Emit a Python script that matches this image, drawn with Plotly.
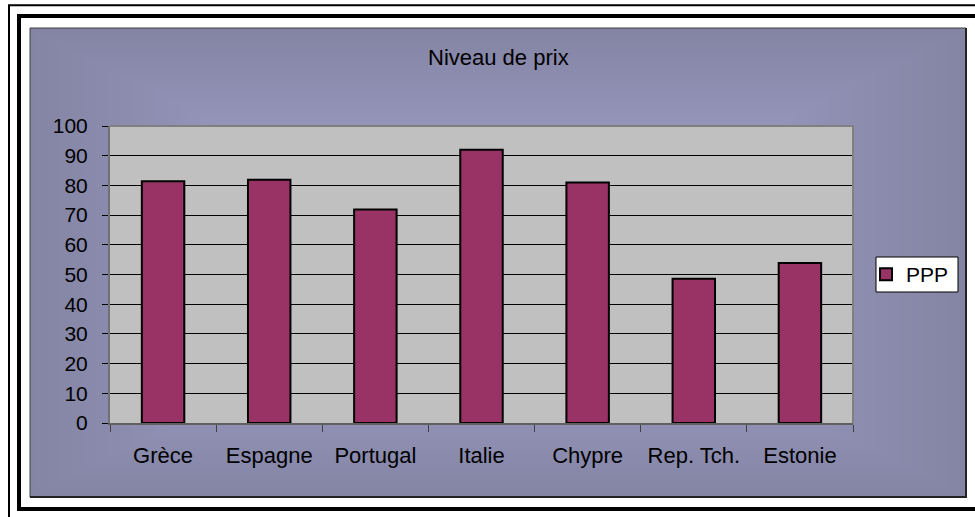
import base64
import struct
import zlib

import numpy as np
import plotly.graph_objects as go

categories = ["Grèce", "Espagne", "Portugal", "Italie", "Chypre", "Rep. Tch.", "Estonie"]
ppp_values = [81.4, 81.9, 71.9, 92.0, 81.0, 48.6, 53.9]
series_name = "PPP"
title_text = "Niveau de prix"

W, H = 975, 517
L, R, T, B = 110, 853, 126, 423  # plot area in pixels
PW, PH = R - L, B - T


def X(px):
    return (px - L) / PW


def Y(py):
    return (B - py) / PH


def make_png(arr):
    h, w, _ = arr.shape
    raw = b"".join(b"\x00" + arr[i].tobytes() for i in range(h))

    def chunk(tag, data):
        c = struct.pack(">I", len(data)) + tag + data
        return c + struct.pack(">I", zlib.crc32(tag + data) & 0xFFFFFFFF)

    png = b"\x89PNG\r\n\x1a\n"
    png += chunk(b"IHDR", struct.pack(">IIBBBBB", w, h, 8, 2, 0, 0, 0))
    png += chunk(b"IDAT", zlib.compress(raw, 9))
    png += chunk(b"IEND", b"")
    return "data:image/png;base64," + base64.b64encode(png).decode()


# background gradient of chart area ("from center" style)
gw, gh = 234, 117
yy, xx = np.mgrid[0:gh, 0:gw]
tx = np.abs((xx + 0.5) / gw - 0.5) * 2
ty = np.abs((yy + 0.5) / gh - 0.5) * 2
t = np.clip(np.maximum(tx, ty), 0, 1)
center = np.array([172, 172, 216], dtype=float)
edge = np.array([132, 132, 164], dtype=float)
img = (center[None, None, :] + (edge - center)[None, None, :] * t[..., None]).round().astype(np.uint8)
bg_src = make_png(img)

CA_L, CA_T, CA_R, CA_B = 30, 28, 966, 497
LG_L, LG_T, LG_R, LG_B = 876, 257, 958, 292
FONT = "Liberation Sans, Arial, sans-serif"

fig = go.Figure()
fig.add_trace(go.Bar(
    x=categories, y=ppp_values, name=series_name,
    marker=dict(color="#993366", line=dict(color="#000000", width=2)),
    showlegend=True,
))

shapes = [
    # outer frame lines
    dict(type="rect", xref="paper", yref="paper", x0=X(9), x1=X(995), y0=Y(5.3), y1=Y(530),
         line=dict(color="black", width=2), layer="below"),
    dict(type="rect", xref="paper", yref="paper", x0=X(19), x1=X(985), y0=Y(16), y1=Y(509),
         line=dict(color="black", width=4), layer="below"),
    # chart area border
    dict(type="rect", xref="paper", yref="paper", x0=X(CA_L), x1=X(CA_R), y0=Y(CA_T), y1=Y(CA_B),
         line=dict(color="#404040", width=1), layer="below"),
    dict(type="path", xref="paper", yref="paper",
         path=f"M{X(CA_R)},{Y(CA_T)} L{X(CA_R)},{Y(CA_B)} L{X(CA_L)},{Y(CA_B)}",
         line=dict(color="#222222", width=2), layer="below"),
    # plot area fill
    dict(type="rect", xref="paper", yref="paper", x0=0, x1=1, y0=0, y1=1,
         fillcolor="#C0C0C0", line=dict(width=0), layer="below"),
    # plot area border (top/right)
    dict(type="path", xref="paper", yref="paper", path="M0,1 L1,1 L1,0",
         line=dict(color="#808080", width=2), layer="above"),
    # legend box
    dict(type="rect", xref="paper", yref="paper", x0=X(LG_L), x1=X(LG_R), y0=Y(LG_T), y1=Y(LG_B),
         fillcolor="white", line=dict(color="black", width=1), layer="above"),
]

fig.update_layout(
    width=W, height=H, autosize=False,
    margin=dict(l=L, r=W - R, t=T, b=H - B, pad=0),
    paper_bgcolor="white",
    plot_bgcolor="rgba(0,0,0,0)",
    font=dict(family=FONT, size=21, color="black"),
    bargap=0.6,
    shapes=shapes,
    images=[dict(source=bg_src, xref="paper", yref="paper", x=X(CA_L), y=Y(CA_T),
                 sizex=(CA_R - CA_L) / PW, sizey=(CA_B - CA_T) / PH,
                 xanchor="left", yanchor="top", sizing="stretch", layer="below")],
    annotations=[dict(text=title_text, xref="paper", yref="paper", x=X(498), y=Y(57),
                      xanchor="center", yanchor="middle", showarrow=False,
                      font=dict(family=FONT, size=22, color="black"))],
    legend=dict(x=X(866), y=Y(254), xanchor="left", yanchor="top",
                bgcolor="rgba(0,0,0,0)", borderwidth=0,
                font=dict(family=FONT, size=21, color="black"),
                itemwidth=30, tracegroupgap=0),
    xaxis=dict(type="category", showgrid=False, zeroline=False,
               showline=True, linecolor="#606060", linewidth=2,
               ticks="outside", tickson="boundaries", ticklen=7, tickcolor="#404040", tickwidth=1,
               ticklabelstandoff=12,
               tickfont=dict(family=FONT, size=22, color="black")),
    yaxis=dict(range=[0, 100], dtick=10, tick0=0, showgrid=True, gridcolor="black", gridwidth=1,
               zeroline=False, showline=True, linecolor="#707070", linewidth=2,
               ticks="outside", ticklen=6, tickcolor="black", tickwidth=1,
               ticklabelstandoff=10,
               tickfont=dict(family=FONT, size=21, color="black")),
)

fig.write_html("out.html", config={"displayModeBar": False},
               post_script="document.body.style.margin='0';")
